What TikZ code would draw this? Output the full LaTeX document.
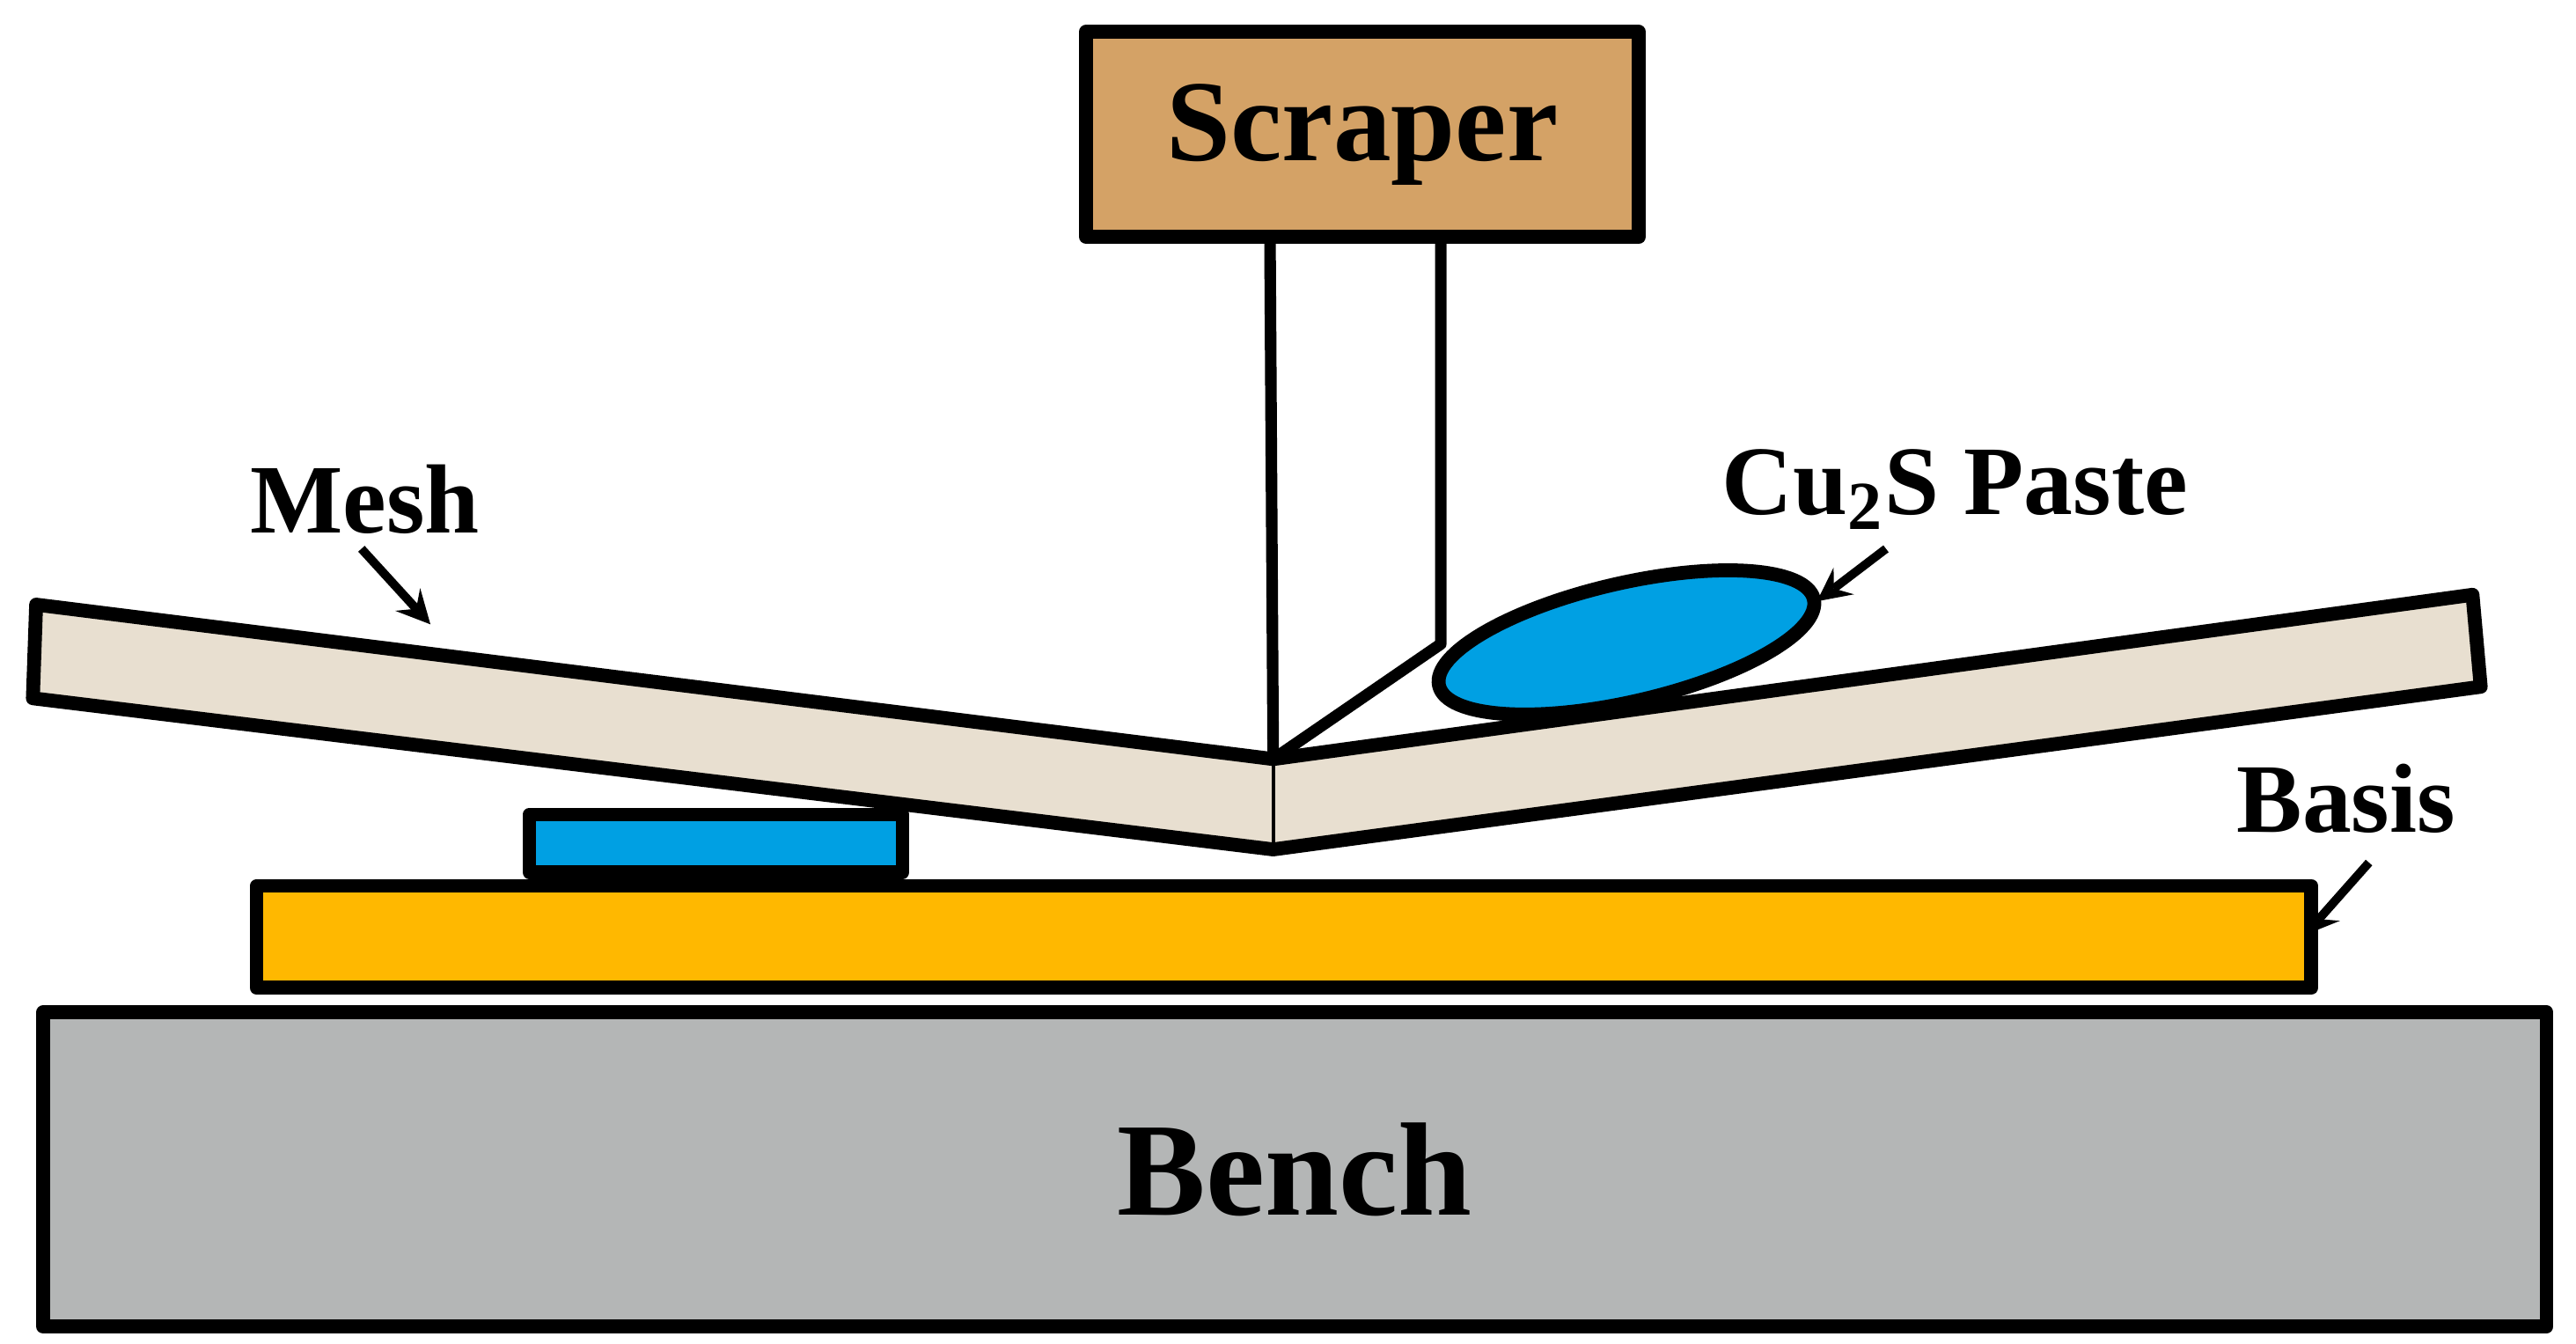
\documentclass[tikz,border=0pt]{standalone}
\usepackage{fontspec}
\setmainfont{Liberation Serif}
\usetikzlibrary{shapes.geometric}
\definecolor{scraperbrown}{RGB}{212,162,102}
\definecolor{meshbeige}{RGB}{232,223,208}
\definecolor{pasteblue}{RGB}{0,160,227}
\definecolor{basisgold}{RGB}{255,184,0}
\definecolor{benchgray}{RGB}{180,182,182}
\tikzset{
  part/.style={draw, line width=2.4pt, line join=round},
  lbl/.style={font=\bfseries\fontsize{17}{20}\selectfont, inner sep=1pt},
  pointer/.style={->, line width=1.5pt, >=stealth}
}
\begin{document}
\begin{tikzpicture}[x=0.01cm, y=-0.01cm]
\useasboundingbox (0,0) rectangle (1568,818);
% bench and basis
\node[part, fill=benchgray, anchor=north west, inner sep=0pt,
  minimum width=15.23cm, minimum height=1.91cm] (bench) at (22,612) {};
\node[font=\bfseries\fontsize{23}{27}\selectfont] (benchtxt) at (bench.center) {Bench};
\node[part, fill=basisgold, anchor=north west, inner sep=0pt,
  minimum width=12.5cm, minimum height=0.62cm] (basis) at (152,535) {};
\node[part, fill=pasteblue, anchor=south west, inner sep=0pt,
  minimum width=2.27cm, minimum height=0.35cm] (print) at (318,535) {};
% scraper
\node[part, fill=scraperbrown, anchor=north west, inner sep=0pt,
  minimum width=3.36cm, minimum height=1.25cm,
  font=\bfseries\fontsize{20}{24}\selectfont] (scraper) at (657,15) {Scraper};
% mesh
\coordinate (tl) at (22,368);  \coordinate (bl) at (20,425);
\coordinate (tc) at (775,462); \coordinate (bc) at (775,517);
\coordinate (tr) at (1505,362); \coordinate (br) at (1510,418);
\draw[part, fill=meshbeige] (tl) -- (tc) -- (tr) -- (br) -- (bc) -- (bl) -- cycle;
\draw[line width=0.6pt] (tc) -- (bc);
% blade
\coordinate (s1) at (773,140); \coordinate (s2) at (877,140);
\coordinate (bend) at (877,392);
\draw[line width=2pt] (s1) -- (tc);
\draw[line width=2pt, line join=round] (s2) -- (bend) -- (tc);
% paste
\node[part, ellipse, fill=pasteblue, minimum width=2.34cm, minimum height=0.72cm,
  rotate=13] (paste) at (990,391) {};
% labels
\node[lbl] (meshtxt) at (222,304) {Mesh};
\node[lbl] (pastetxt) at (1190,298) {Cu\textsubscript{2}S Paste};
\node[lbl] (basistxt) at (1428,486) {Basis};
\coordinate (meshtip) at (262,380);
\coordinate (pastetip) at (1106,366);
\coordinate (basistip) at (1403,569);
\draw[pointer] (220,334) -- (meshtip);
\draw[pointer] (1148,334) -- (pastetip);
\draw[pointer] (1442,525) -- (basistip);
\end{tikzpicture}
\end{document}
